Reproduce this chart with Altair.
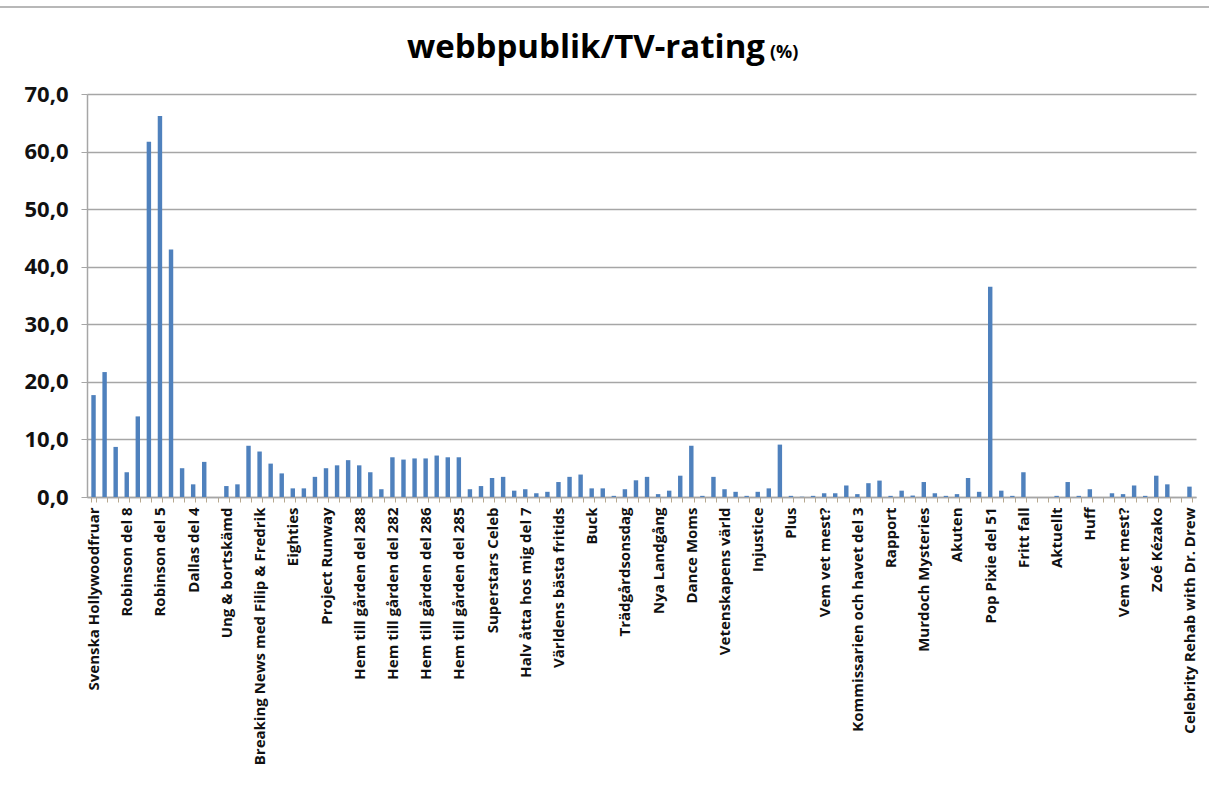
import altair as alt
import pandas as pd

# bar values (web audience / TV rating, %) in chart order
values = [
    17.7, 21.7, 8.7, 4.3, 14.0, 61.7, 66.2, 43.0, 5.0, 2.2,
    6.1, 0.0, 1.9, 2.2, 8.9, 7.9, 5.8, 4.1, 1.5, 1.5,
    3.5, 5.0, 5.5, 6.4, 5.5, 4.3, 1.35, 6.9, 6.5, 6.7,
    6.7, 7.2, 6.9, 6.9, 1.35, 1.9, 3.3, 3.5, 1.1, 1.35,
    0.65, 0.9, 2.6, 3.5, 3.9, 1.5, 1.5, 0.2, 1.35, 2.9,
    3.5, 0.5, 1.1, 3.7, 8.9, 0.2, 3.5, 1.35, 0.9, 0.2,
    0.9, 1.5, 9.1, 0.2, 0.05, 0.2, 0.65, 0.65, 2.0, 0.5,
    2.4, 2.85, 0.2, 1.1, 0.25, 2.6, 0.65, 0.2, 0.5, 3.3,
    0.9, 36.5, 1.1, 0.2, 4.3, 0.0, 0.0, 0.2, 2.6, 0.2,
    1.35, 0.0, 0.65, 0.5, 2.0, 0.2, 3.7, 2.2, 0.0, 1.8,
]

# every third bar carries a visible label
labels = [
    "Svenska Hollywoodfruar", "Robinson del 8", "Robinson del 5", "Dallas del 4",
    "Ung & bortskämd", "Breaking News med Filip & Fredrik", "Eighties",
    "Project Runway", "Hem till gården del 288", "Hem till gården del 282",
    "Hem till gården del 286", "Hem till gården del 285", "Superstars Celeb",
    "Halv åtta hos mig del 7", "Världens bästa fritids", "Buck",
    "Trädgårdsonsdag", "Nya Landgång", "Dance Moms", "Vetenskapens värld",
    "Injustice", "Plus", "Vem vet mest?", "Kommissarien och havet del 3",
    "Rapport", "Murdoch Mysteries", "Akuten", "Pop Pixie del 51", "Fritt fall",
    "Aktuellt", "Huff", "Vem vet mest?", "Zoé Kézako",
    "Celebrity Rehab with Dr. Drew",
]
label_every = 3
y_ticks = [0, 10, 20, 30, 40, 50, 60, 70]

df = pd.DataFrame({"idx": list(range(len(values))), "value": values})

js_labels = "[" + ",".join("'" + s.replace("'", "\\'") + "'" for s in labels) + "]"
label_expr = (
    f"datum.value % {label_every} == 0 ? {js_labels}[datum.value / {label_every}] : ''"
)

FONT = "Open Sans"
GRID = "#a6a6a6"

bars = alt.Chart(df).mark_bar(color="#4f81bd").encode(
    x=alt.X(
        "idx:O",
        title=None,
        scale=alt.Scale(paddingInner=0.6, paddingOuter=0.39),
        axis=alt.Axis(
            labelExpr=label_expr,
            labelAngle=-90,
            labelFont=FONT,
            labelFontWeight="bold",
            labelFontSize=15,
            labelColor="#111111",
            labelPadding=5,
            labelLimit=400,
            labelOverlap=False,
            tickBand="extent",
            tickSize=5,
            tickColor="#b7a88f",
            domainColor=GRID,
            domainWidth=1.5,
            grid=False,
        ),
    ),
    y=alt.Y(
        "value:Q",
        title=None,
        scale=alt.Scale(domain=[0, 70], nice=False),
        axis=alt.Axis(
            values=y_ticks,
            labelExpr="replace(format(datum.value, '.1f'), '.', ',')",
            labelFont=FONT,
            labelFontWeight="bold",
            labelFontSize=22,
            labelColor="#111111",
            labelPadding=13,
            tickSize=6,
            tickColor=GRID,
            grid=True,
            gridColor=GRID,
            gridWidth=1.5,
            domainColor=GRID,
            domainWidth=1.5,
        ),
    ),
)

title_main = alt.Chart(pd.DataFrame({"t": ["webbpublik/TV-rating"]})).mark_text(
    font=FONT, fontWeight="bold", fontSize=33, align="right", baseline="alphabetic",
    color="#000000",
).encode(text="t:N", x=alt.value(678), y=alt.value(-36))

title_pct = alt.Chart(pd.DataFrame({"t": ["(%)"]})).mark_text(
    font=FONT, fontWeight="bold", fontSize=18, align="left", baseline="alphabetic",
    color="#000000",
).encode(text="t:N", x=alt.value(683), y=alt.value(-36))

border = alt.Chart(pd.DataFrame({"t": [0]})).mark_rule(
    color="#a0a0a0", strokeWidth=1.5
).encode(x=alt.value(-87), x2=alt.value(1122), y=alt.value(-87))

chart = alt.layer(border, bars, title_main, title_pct).properties(
    width=1109,
    height=403,
    autosize=alt.AutoSizeParams(type="none"),
    padding={"left": 87, "top": 94, "right": 13, "bottom": 294},
    background="white",
).configure_view(stroke=None)

chart.save("out.html", embed_options={"renderer": "svg", "actions": False})
